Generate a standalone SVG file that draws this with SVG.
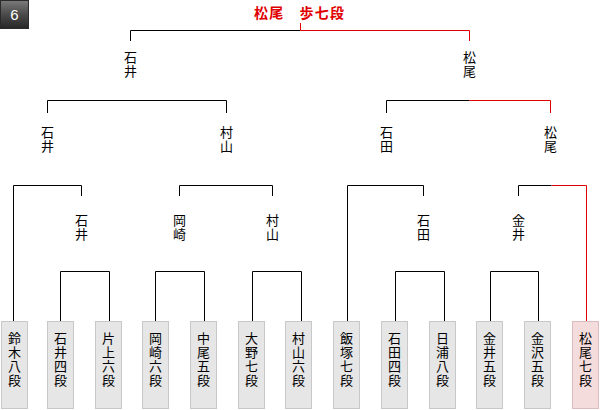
<svg xmlns="http://www.w3.org/2000/svg" width="600" height="410" viewBox="0 0 600 410">
<defs>
<linearGradient id="bg" x1="0" y1="0" x2="0" y2="1">
<stop offset="0" stop-color="#7a7a7a"/>
<stop offset="0.5" stop-color="#4a4a4a"/>
<stop offset="1" stop-color="#262626"/>
</linearGradient>
</defs>
<style>
.ln{fill:none;stroke:#000;stroke-width:1}
.rd{fill:none;stroke:#e00000;stroke-width:1}
.lb{font-family:"Noto Sans CJK JP","Noto Sans CJK SC",sans-serif;font-size:13px;fill:#000;text-anchor:middle;dominant-baseline:central}
.bx{fill:#e6e6e6;stroke:#c8c8c8;stroke-width:1}
.bxw{fill:#f5dcdc;stroke:#dcbcbc;stroke-width:1}
.tt{font-family:"Noto Sans CJK JP","Noto Sans CJK SC",sans-serif;font-size:14px;font-weight:bold;fill:#e00000;letter-spacing:1.2px}
</style>
<rect width="600" height="410" fill="#fff"/>
<g id="badge">
<rect x="0.5" y="0.5" width="28" height="28" fill="url(#bg)" stroke="#2a2a2a"/>
<text x="14.5" y="19.5" font-family="Liberation Sans, sans-serif" font-size="15" fill="#fff" text-anchor="middle">6</text>
</g>
<g id="title">
<text class="tt" x="254" y="18">松尾　歩七段</text>
</g>
<g id="connectors">
<path class="ln" d="M130.5,41 V30.5 H300.5"/>
<path class="rd" d="M300.5,23 V30.5 H469.5 V41"/>
<path class="ln" d="M47.5,113 V100.5 H226.5 V113"/>
<path class="ln" d="M386.5,113 V100.5 H469.5"/>
<path class="rd" d="M469.5,100.5 H550.5 V113"/>
<path class="ln" d="M13.5,321 V185.5 H81.5 V196"/>
<path class="ln" d="M179.5,196 V185.5 H272.5 V196"/>
<path class="ln" d="M347.5,321 V185.5 H423.5 V196"/>
<path class="ln" d="M518.5,196 V185.5 H551.5"/>
<path class="rd" d="M551.5,185.5 H586.5 V321"/>
<path class="ln" d="M60.5,321 V271.5 H109.5 V321"/>
<path class="ln" d="M155.5,321 V271.5 H204.5 V321"/>
<path class="ln" d="M252.5,321 V271.5 H301.5 V321"/>
<path class="ln" d="M395.5,321 V271.5 H444.5 V321"/>
<path class="ln" d="M490.5,321 V271.5 H538.5 V321"/>
</g>
<g id="r3-ishii"><text class="lb"><tspan x="130.5" y="56">石</tspan><tspan x="130.5" y="70">井</tspan></text></g>
<g id="r3-matsuo"><text class="lb"><tspan x="469.5" y="56">松</tspan><tspan x="469.5" y="70">尾</tspan></text></g>
<g id="r2-ishii"><text class="lb"><tspan x="47.5" y="131">石</tspan><tspan x="47.5" y="145">井</tspan></text></g>
<g id="r2-murayama"><text class="lb"><tspan x="226.5" y="131">村</tspan><tspan x="226.5" y="145">山</tspan></text></g>
<g id="r2-ishida"><text class="lb"><tspan x="386.5" y="131">石</tspan><tspan x="386.5" y="145">田</tspan></text></g>
<g id="r2-matsuo"><text class="lb"><tspan x="550.5" y="131">松</tspan><tspan x="550.5" y="145">尾</tspan></text></g>
<g id="r1-ishii"><text class="lb"><tspan x="81.5" y="218.5">石</tspan><tspan x="81.5" y="233">井</tspan></text></g>
<g id="r1-okazaki"><text class="lb"><tspan x="179.5" y="218.5">岡</tspan><tspan x="179.5" y="233">崎</tspan></text></g>
<g id="r1-murayama"><text class="lb"><tspan x="272.5" y="218.5">村</tspan><tspan x="272.5" y="233">山</tspan></text></g>
<g id="r1-ishida"><text class="lb"><tspan x="423.5" y="218.5">石</tspan><tspan x="423.5" y="233">田</tspan></text></g>
<g id="r1-kanai"><text class="lb"><tspan x="518.5" y="218.5">金</tspan><tspan x="518.5" y="233">井</tspan></text></g>
<g id="p-suzuki"><rect class="bx" x="1.5" y="321.5" width="26" height="87"/><text class="lb"><tspan x="14.5" y="336.5">鈴</tspan><tspan x="14.5" y="350.8">木</tspan><tspan x="14.5" y="365">八</tspan><tspan x="14.5" y="379.3">段</tspan></text></g>
<g id="p-ishii"><rect class="bx" x="47.5" y="321.5" width="26" height="87"/><text class="lb"><tspan x="60.5" y="336.5">石</tspan><tspan x="60.5" y="350.8">井</tspan><tspan x="60.5" y="365">四</tspan><tspan x="60.5" y="379.3">段</tspan></text></g>
<g id="p-katagami"><rect class="bx" x="95.5" y="321.5" width="26" height="87"/><text class="lb"><tspan x="108.5" y="336.5">片</tspan><tspan x="108.5" y="350.8">上</tspan><tspan x="108.5" y="365">六</tspan><tspan x="108.5" y="379.3">段</tspan></text></g>
<g id="p-okazaki"><rect class="bx" x="142.5" y="321.5" width="26" height="87"/><text class="lb"><tspan x="155.5" y="336.5">岡</tspan><tspan x="155.5" y="350.8">崎</tspan><tspan x="155.5" y="365">六</tspan><tspan x="155.5" y="379.3">段</tspan></text></g>
<g id="p-nakao"><rect class="bx" x="190.5" y="321.5" width="26" height="87"/><text class="lb"><tspan x="203.5" y="336.5">中</tspan><tspan x="203.5" y="350.8">尾</tspan><tspan x="203.5" y="365">五</tspan><tspan x="203.5" y="379.3">段</tspan></text></g>
<g id="p-ohno"><rect class="bx" x="238.5" y="321.5" width="26" height="87"/><text class="lb"><tspan x="251.5" y="336.5">大</tspan><tspan x="251.5" y="350.8">野</tspan><tspan x="251.5" y="365">七</tspan><tspan x="251.5" y="379.3">段</tspan></text></g>
<g id="p-murayama"><rect class="bx" x="285.5" y="321.5" width="26" height="87"/><text class="lb"><tspan x="298.5" y="336.5">村</tspan><tspan x="298.5" y="350.8">山</tspan><tspan x="298.5" y="365">六</tspan><tspan x="298.5" y="379.3">段</tspan></text></g>
<g id="p-iizuka"><rect class="bx" x="333.5" y="321.5" width="26" height="87"/><text class="lb"><tspan x="346.5" y="336.5">飯</tspan><tspan x="346.5" y="350.8">塚</tspan><tspan x="346.5" y="365">七</tspan><tspan x="346.5" y="379.3">段</tspan></text></g>
<g id="p-ishida"><rect class="bx" x="381.5" y="321.5" width="26" height="87"/><text class="lb"><tspan x="394.5" y="336.5">石</tspan><tspan x="394.5" y="350.8">田</tspan><tspan x="394.5" y="365">四</tspan><tspan x="394.5" y="379.3">段</tspan></text></g>
<g id="p-hiura"><rect class="bx" x="429.5" y="321.5" width="26" height="87"/><text class="lb"><tspan x="442.5" y="336.5">日</tspan><tspan x="442.5" y="350.8">浦</tspan><tspan x="442.5" y="365">八</tspan><tspan x="442.5" y="379.3">段</tspan></text></g>
<g id="p-kanai"><rect class="bx" x="476.5" y="321.5" width="26" height="87"/><text class="lb"><tspan x="489.5" y="336.5">金</tspan><tspan x="489.5" y="350.8">井</tspan><tspan x="489.5" y="365">五</tspan><tspan x="489.5" y="379.3">段</tspan></text></g>
<g id="p-kanazawa"><rect class="bx" x="524.5" y="321.5" width="26" height="87"/><text class="lb"><tspan x="537.5" y="336.5">金</tspan><tspan x="537.5" y="350.8">沢</tspan><tspan x="537.5" y="365">五</tspan><tspan x="537.5" y="379.3">段</tspan></text></g>
<g id="p-matsuo"><rect class="bxw" x="572.5" y="321.5" width="26" height="87"/><text class="lb"><tspan x="585.5" y="336.5">松</tspan><tspan x="585.5" y="350.8">尾</tspan><tspan x="585.5" y="365">七</tspan><tspan x="585.5" y="379.3">段</tspan></text></g>
</svg>
